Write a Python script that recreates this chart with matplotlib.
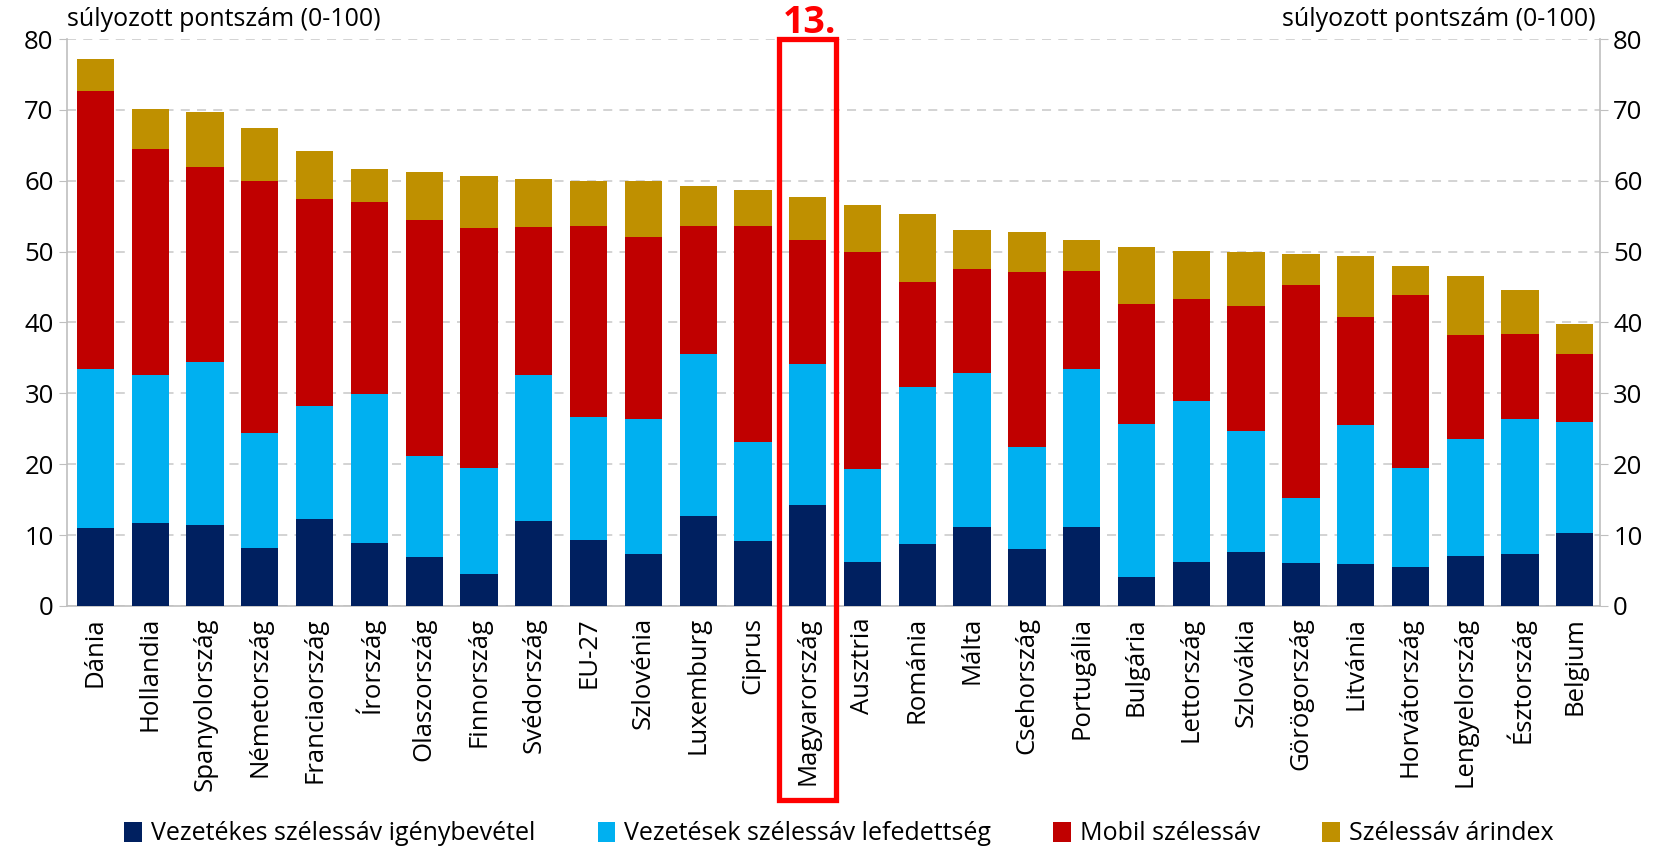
import matplotlib
matplotlib.use("Agg")
import matplotlib.pyplot as plt
import matplotlib.transforms as mtransforms
from matplotlib.patches import Rectangle, Patch
import numpy as np

plt.rcParams['font.family'] = ['Open Sans', 'DejaVu Sans']

# országok és a négy részpontszám (súlyozott pontszám, 0-100)
orszagok = ['Dánia', 'Hollandia', 'Spanyolország', 'Németország', 'Franciaország',
            'Írország', 'Olaszország', 'Finnország', 'Svédország', 'EU-27',
            'Szlovénia', 'Luxemburg', 'Ciprus', 'Magyarország', 'Ausztria',
            'Románia', 'Málta', 'Csehország', 'Portugália', 'Bulgária',
            'Lettország', 'Szlovákia', 'Görögország', 'Litvánia', 'Horvátország',
            'Lengyelország', 'Észtország', 'Belgium']

vezetekes_igeny = [11.0, 11.7, 11.4, 8.2, 12.3, 8.9, 6.9, 4.5, 12.0, 9.3,
                   7.4, 12.7, 9.1, 14.2, 6.2, 8.8, 11.2, 8.0, 11.2, 4.1,
                   6.2, 7.6, 6.1, 5.9, 5.5, 7.1, 7.3, 10.3]
vezetekes_lefed = [22.5, 20.9, 23.0, 16.2, 15.9, 21.0, 14.3, 15.0, 20.6, 17.4,
                   19.0, 22.9, 14.1, 19.9, 13.1, 22.1, 21.7, 14.5, 22.3, 21.6,
                   22.7, 17.1, 9.1, 19.7, 14.0, 16.4, 19.1, 15.6]
mobil = [39.2, 31.9, 27.6, 35.6, 29.2, 27.1, 33.2, 33.8, 20.9, 26.9,
         25.6, 18.0, 30.4, 17.6, 30.7, 14.8, 14.7, 24.6, 13.7, 16.9,
         14.4, 17.6, 30.1, 15.2, 24.4, 14.7, 12.0, 9.7]
arindex = [4.5, 5.6, 7.7, 7.4, 6.8, 4.6, 6.9, 7.3, 6.8, 6.4,
           7.9, 5.7, 5.1, 6.0, 6.6, 9.6, 5.4, 5.7, 4.4, 8.1,
           6.8, 7.6, 4.3, 8.6, 4.1, 8.3, 6.2, 4.2]

sorozatok = ['Vezetékes szélessáv igénybevétel', 'Vezetések szélessáv lefedettség',
             'Mobil szélessáv', 'Szélessáv árindex']
szinek = ['#002060', '#00B0F0', '#C00000', '#BF9000']
kiemelt = 'Magyarország'
helyezes = '13.'

fig = plt.figure(figsize=(16.61, 8.46), dpi=100)
ax = fig.add_axes([0.0403, 0.2837, 0.923, 0.6702])

x = np.arange(len(orszagok))
also = np.zeros(len(orszagok))
for ertekek, nev, szin in zip([vezetekes_igeny, vezetekes_lefed, mobil, arindex], sorozatok, szinek):
    ax.bar(x, ertekek, width=0.68, bottom=also, color=szin, label=nev, zorder=3)
    also += np.array(ertekek)

ax.set_xlim(-0.52, len(orszagok) - 0.54)
ax.set_ylim(0, 80)
ax.set_yticks(range(0, 81, 10))
ax.yaxis.grid(True, color='#D0D0D0', linestyle=(0, (5, 4)), linewidth=1.3, zorder=0)
ax.set_xticks(x)
ax.set_xticklabels(orszagok, rotation=90, fontsize=18.5)
ax.tick_params(axis='x', length=0, pad=8)
ax.tick_params(axis='y', labelsize=18.5, length=6, color='#BFBFBF', direction='out')
for s in ['left', 'bottom']:
    ax.spines[s].set_color('#BFBFBF')
    ax.spines[s].set_linewidth(1.2)
ax.spines['top'].set_visible(False)
ax.spines['right'].set_visible(False)

ax2 = ax.twinx()
ax2.set_ylim(0, 80)
ax2.set_yticks(range(0, 81, 10))
ax2.tick_params(axis='y', labelsize=18.5, length=6, color='#BFBFBF', direction='out')
ax2.spines['right'].set_color('#BFBFBF')
ax2.spines['right'].set_linewidth(1.2)
for s in ['left', 'top', 'bottom']:
    ax2.spines[s].set_visible(False)

fig.text(0.0403, 0.977, 'súlyozott pontszám (0-100)', fontsize=18, ha='left', va='center')
fig.text(0.9605, 0.977, 'súlyozott pontszám (0-100)', fontsize=18, ha='right', va='center')

# kiemelt ország bekeretezése
i = orszagok.index(kiemelt)
trans = mtransforms.blended_transform_factory(ax.transData, ax.transAxes)
ax.add_patch(Rectangle((i - 0.52, -0.342), 1.04, 1.342, transform=trans, fill=False,
                       edgecolor='#FF0000', linewidth=3.8, clip_on=False, zorder=5))
ax.text(i + 0.03, 0.995, helyezes, transform=trans, color='#FF0000', fontsize=27, fontweight='bold',
        ha='center', va='bottom')

kezelok = [Patch(facecolor=c, edgecolor='none') for c in szinek]
fig.legend(kezelok, sorozatok, loc='lower center', ncol=4, frameon=False, fontsize=18,
           bbox_to_anchor=(0.505, -0.027), handlelength=0.7, handleheight=0.85,
           handletextpad=0.35, columnspacing=2.5)

fig.savefig('out.png', dpi=100)
